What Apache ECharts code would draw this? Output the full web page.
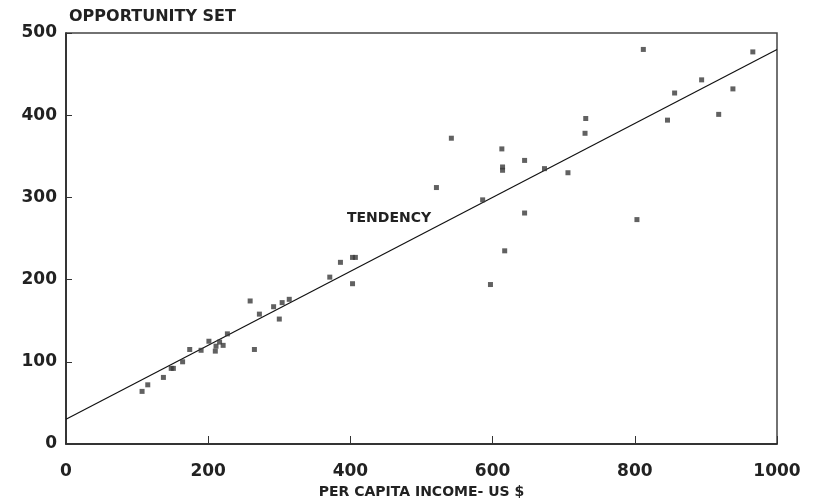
<!DOCTYPE html>
<html>
<head>
<meta charset="utf-8">
<script src="https://cdn.jsdelivr.net/npm/echarts@6/dist/echarts.min.js"></script>
<style>
  html, body { margin: 0; padding: 0; background: #fff; }
  #chart { width: 814px; height: 504px; }
</style>
</head>
<body>
<div id="chart"></div>
<script>
// per capita income (US $)
const incomeX = [107, 115, 137, 148, 151, 164, 174, 190, 201, 210, 211, 216, 221, 227,
  259, 265, 272, 292, 300, 304, 314, 371, 386, 403, 403, 407,
  521, 542, 586, 597, 613, 614, 614, 617, 645, 645, 673, 706, 730, 731,
  803, 812, 846, 856, 894, 918, 938, 966]
// opportunity set
const opportunityY = [64, 72, 81, 92, 92, 100, 115, 114, 125, 113, 119, 124, 120, 134,
  174, 115, 158, 167, 152, 172, 176, 203, 221, 195, 227, 227,
  312, 372, 297, 194, 359, 337, 333, 235, 281, 345, 335, 330, 378, 396,
  273, 480, 394, 427, 443, 401, 432, 477]
// tendency line end points
const trendX = [0, 1000]
const trendY = [30, 480]

const chart = echarts.init(document.getElementById('chart'))
const labelFont = { fontFamily: 'DejaVu Sans', fontWeight: 'bold', color: '#222' }

const option = {
  animation: false,
  grid: {
    left: 66, right: 37, top: 33, bottom: 60,
    show: true, borderColor: '#444', borderWidth: 1.5, backgroundColor: 'transparent'
  },
  title: {
    text: 'OPPORTUNITY SET',
    left: 64, top: 4,
    textStyle: { ...labelFont, fontSize: 16 }
  },
  xAxis: {
    type: 'value', min: 0, max: 1000, interval: 200,
    name: 'PER CAPITA INCOME- US $', nameLocation: 'middle', nameGap: 40,
    nameTextStyle: { ...labelFont, fontSize: 14 },
    axisLine: { lineStyle: { color: '#222', width: 1.5 } },
    axisTick: { inside: true, length: 8, lineStyle: { color: '#333' } },
    axisLabel: { ...labelFont, fontSize: 17, margin: 19, formatter: v => String(v) },
    splitLine: { show: false }
  },
  yAxis: {
    type: 'value', min: 0, max: 500, interval: 100,
    axisLine: { show: true, lineStyle: { color: '#222', width: 1.5 } },
    axisTick: { show: true, inside: true, length: 6, lineStyle: { color: '#333' } },
    axisLabel: { ...labelFont, fontSize: 17, margin: 9 },
    splitLine: { show: false }
  },
  series: [
    {
      type: 'line',
      data: trendX.map((x, i) => [x, trendY[i]]),
      symbol: 'none',
      lineStyle: { color: '#111', width: 1.2 },
      z: 2
    },
    {
      type: 'scatter',
      data: incomeX.map((x, i) => [x, opportunityY[i]]),
      symbol: 'rect',
      symbolSize: 5,
      itemStyle: { color: '#3a3a3a' },
      z: 3
    }
  ],
  graphic: [
    {
      type: 'text', left: 347, top: 211,
      style: { text: 'TENDENCY', font: 'bold 14px "DejaVu Sans"', fill: '#222' }
    }
  ]
}
chart.setOption(option)
</script>
</body>
</html>
